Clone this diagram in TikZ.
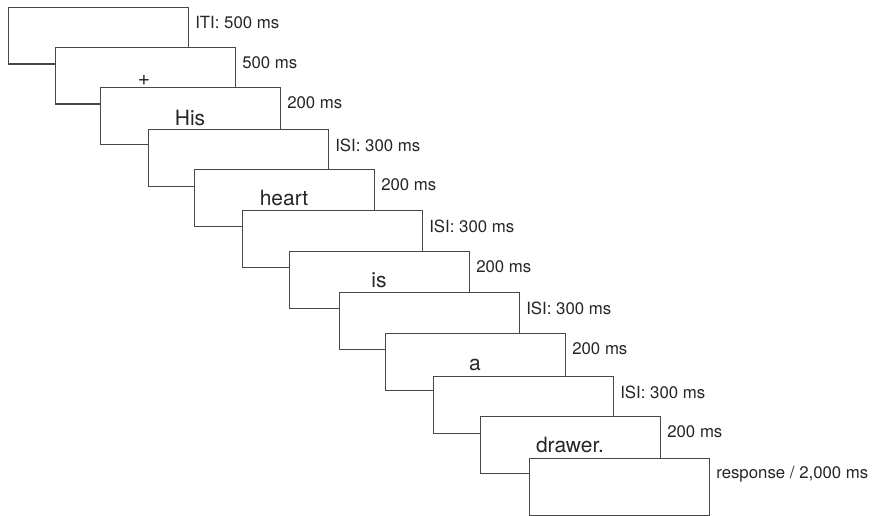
\documentclass[tikz,border=0pt]{standalone}
\usepackage{fontspec}
\setmainfont{TeX Gyre Heros}
\begin{document}
\begin{tikzpicture}[x=1pt,y=-1pt,
  scr/.style={draw=black!72, fill=white, line width=1.1pt, anchor=north west, inner sep=0pt, minimum width=180pt, minimum height=56.5pt},
  lab/.style={anchor=west, inner sep=0pt, font=\fontsize{16.8}{18}\selectfont, text=black!85},
  word/.style={anchor=base, inner sep=0pt, font=\fontsize{21}{24}\selectfont, text=black!85}]
\useasboundingbox (0,0) rectangle (875,516);
\node[scr] (b1) at (8,7) {};
\node[lab] (t1) at ([xshift=6pt,yshift=-16pt]b1.north east) {ITI: 500 ms};
\node[scr] (b2) at (55,47) {};
\node[lab] (t2) at ([xshift=6pt,yshift=-16pt]b2.north east) {500 ms};
\node[scr] (b3) at (100,87) {};
\node[lab] (t3) at ([xshift=6pt,yshift=-16pt]b3.north east) {200 ms};
\node[word] (w2) at (144,86) {+};
\node[scr] (b4) at (148,129) {};
\node[lab] (t4) at ([xshift=6pt,yshift=-16pt]b4.north east) {ISI: 300 ms};
\node[word] (w3) at (190,125) {His};
\node[scr] (b5) at (194,169) {};
\node[lab] (t5) at ([xshift=6pt,yshift=-16pt]b5.north east) {200 ms};
\node[scr] (b6) at (242,210) {};
\node[lab] (t6) at ([xshift=6pt,yshift=-16pt]b6.north east) {ISI: 300 ms};
\node[word] (w5) at (284,205) {heart};
\node[scr] (b7) at (289,251) {};
\node[lab] (t7) at ([xshift=6pt,yshift=-16pt]b7.north east) {200 ms};
\node[scr] (b8) at (339,292) {};
\node[lab] (t8) at ([xshift=6pt,yshift=-16pt]b8.north east) {ISI: 300 ms};
\node[word] (w7) at (379,287) {is};
\node[scr] (b9) at (385,333) {};
\node[lab] (t9) at ([xshift=6pt,yshift=-16pt]b9.north east) {200 ms};
\node[scr] (b10) at (433,376) {};
\node[lab] (t10) at ([xshift=6pt,yshift=-16pt]b10.north east) {ISI: 300 ms};
\node[word] (w9) at (475,370) {a};
\node[scr] (b11) at (480,416) {};
\node[lab] (t11) at ([xshift=6pt,yshift=-16pt]b11.north east) {200 ms};
\node[scr] (b12) at (529,458) {};
\node[lab] (t12) at ([xshift=6pt,yshift=-16pt]b12.north east) {response / 2,000 ms};
\node[word] (w11) at (570,452) {drawer.};
\end{tikzpicture}
\end{document}
